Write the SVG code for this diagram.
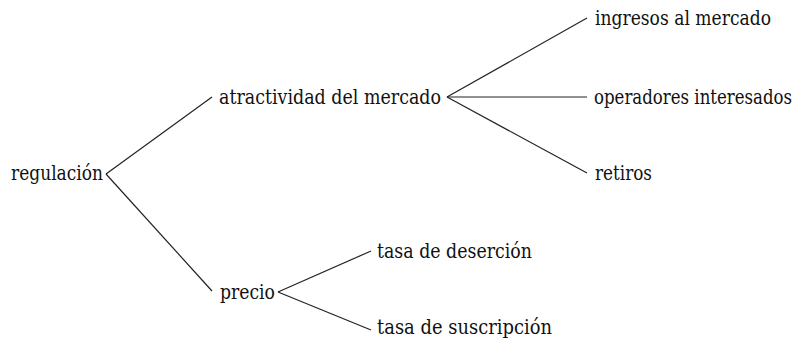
<svg xmlns="http://www.w3.org/2000/svg" width="804" height="339" viewBox="0 0 804 339">
<style>
text{font-family:"DejaVu Serif","Liberation Serif",serif;font-size:20px;fill:#111}
.c line{stroke:#222;stroke-width:1.2}
</style>
<rect width="804" height="339" fill="#fff"/>
<g class="c" id="connectors">
<line x1="106" y1="174" x2="212" y2="97"/>
<line x1="106" y1="174" x2="212" y2="291"/>
<line x1="447" y1="97" x2="587" y2="18"/>
<line x1="447" y1="97" x2="587" y2="97"/>
<line x1="447" y1="97" x2="587" y2="173"/>
<line x1="278" y1="292" x2="371" y2="251"/>
<line x1="278" y1="292" x2="371" y2="330"/>
</g>
<g id="n-regulacion"><text x="11" y="180" textLength="92" lengthAdjust="spacingAndGlyphs">regulación</text></g>
<g id="n-atractividad"><text x="219" y="104" textLength="222" lengthAdjust="spacingAndGlyphs">atractividad del mercado</text></g>
<g id="n-ingresos"><text x="595" y="25" textLength="176" lengthAdjust="spacingAndGlyphs">ingresos al mercado</text></g>
<g id="n-operadores"><text transform="translate(594,104) scale(0.83,1)">operadores interesados</text></g>
<g id="n-retiros"><text x="595" y="180" textLength="57" lengthAdjust="spacingAndGlyphs">retiros</text></g>
<g id="n-precio"><text x="220" y="299" textLength="55" lengthAdjust="spacingAndGlyphs">precio</text></g>
<g id="n-desercion"><text x="377" y="258" textLength="155" lengthAdjust="spacingAndGlyphs">tasa de deserción</text></g>
<g id="n-suscripcion"><text x="377" y="334" textLength="175" lengthAdjust="spacingAndGlyphs">tasa de suscripción</text></g>
</svg>
